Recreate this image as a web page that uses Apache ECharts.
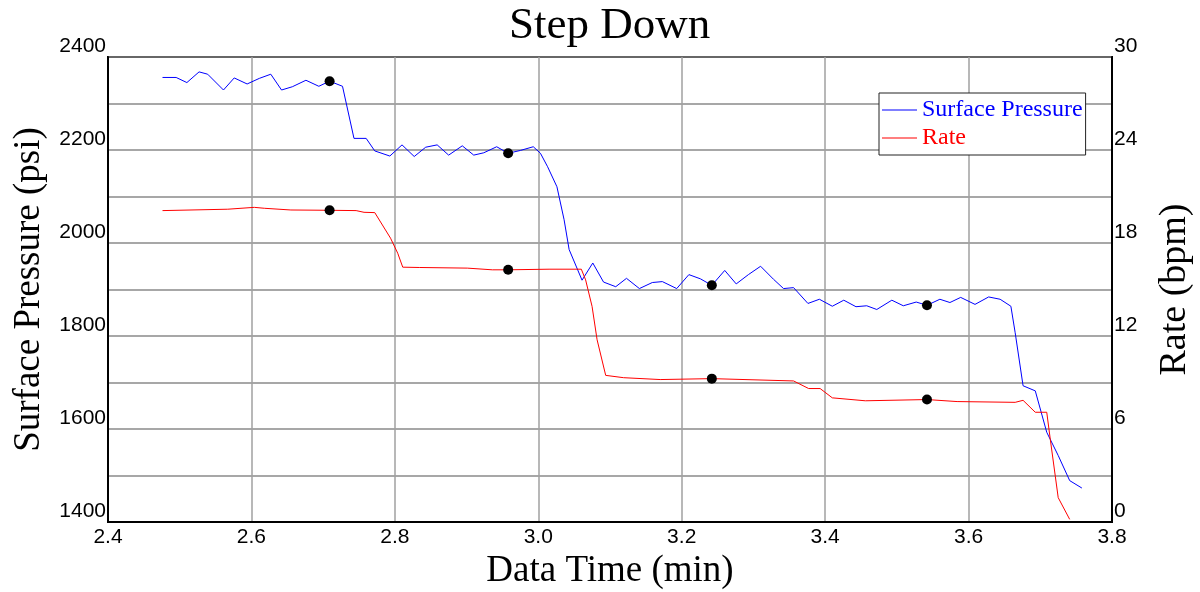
<!DOCTYPE html>
<html>
<head>
<meta charset="utf-8">
<script src="https://cdn.jsdelivr.net/npm/echarts@6/dist/echarts.min.js"></script>
<style>
html,body{margin:0;padding:0;background:#fff;}
#chart{width:1200px;height:592px;}
</style>
</head>
<body>
<div id="chart"></div>
<script>
// Surface pressure (psi) vs data time (min)
const pressureTime = [2.476,2.495,2.510,2.527,2.539,2.561,2.576,2.594,2.611,2.627,2.642,2.657,2.676,2.694,2.709,2.727,2.743,2.760,2.772,2.793,2.810,2.827,2.843,2.859,2.875,2.894,2.910,2.924,2.942,2.958,2.975,2.993,3.003,3.013,3.026,3.036,3.043,3.061,3.076,3.091,3.108,3.123,3.141,3.159,3.173,3.193,3.210,3.226,3.242,3.260,3.276,3.293,3.310,3.328,3.342,3.356,3.376,3.392,3.410,3.426,3.443,3.458,3.472,3.493,3.509,3.527,3.542,3.560,3.574,3.589,3.609,3.628,3.644,3.659,3.665,3.676,3.693,3.709,3.725,3.741,3.758];
const pressureValues = [2356,2356,2345,2368,2363,2329,2355,2342,2354,2363,2329,2336,2350,2337,2348,2337,2225,2225,2198,2187,2211,2186,2206,2211,2189,2209,2189,2194,2207,2193,2199,2207,2193,2164,2121,2050,1986,1920,1957,1916,1906,1924,1902,1915,1917,1902,1932,1923,1909,1941,1912,1932,1950,1922,1902,1904,1870,1879,1864,1877,1863,1865,1857,1877,1865,1873,1866,1879,1872,1883,1868,1884,1879,1864,1807,1693,1682,1593,1543,1489,1473];

// Rate (bpm) vs data time (min)
const rateTime = [2.476,2.567,2.604,2.618,2.655,2.709,2.746,2.757,2.772,2.794,2.804,2.811,2.834,2.901,2.936,2.957,3.015,3.060,3.066,3.075,3.082,3.094,3.119,3.170,3.242,3.356,3.377,3.393,3.410,3.456,3.542,3.584,3.665,3.676,3.693,3.709,3.714,3.725,3.741];
const rateValues = [20.09,20.18,20.30,20.24,20.13,20.11,20.09,19.98,19.96,18.31,17.34,16.44,16.42,16.38,16.27,16.27,16.31,16.31,15.62,13.91,11.76,9.46,9.31,9.19,9.25,9.10,8.61,8.61,8.01,7.82,7.90,7.77,7.72,7.85,7.08,7.08,5.32,1.57,0.17];

// Selected step points (black dots)
const stepTimes = [2.709,2.958,3.242,3.542];
const stepPressure = [2348,2193,1909,1866];
const stepRate = [20.11,16.27,9.25,7.90];

const xTicks = [2.4,2.6,2.8,3.0,3.2,3.4,3.6,3.8];

const zip = (a,b) => a.map((v,i)=>[v,b[i]]);

const chart = echarts.init(document.getElementById('chart'), null, {renderer:'canvas'});
const serif = '"Liberation Serif","DejaVu Serif",serif';
const sans = '"Liberation Sans",Arial,sans-serif';

chart.setOption({
  animation:false,
  backgroundColor:'#fff',
  title:{
    text:'Step Down', left:509, top:4, padding:0,
    textStyle:{fontFamily:serif,fontSize:45,fontWeight:'normal',color:'#000'}
  },
  legend:{
    orient:'vertical', left:879, top:93,
    backgroundColor:'#fff', borderColor:'#222', borderWidth:1,
    padding:[5,3,5,3], itemGap:4,
    icon:'rect', itemWidth:35, itemHeight:1.2,
    textStyle:{fontFamily:serif,fontSize:24},
    data:[
      {name:'Surface Pressure',textStyle:{color:'#0000ff'}},
      {name:'Rate',textStyle:{color:'#ff0000'}}
    ]
  },
  grid:{left:108,right:88,top:57,bottom:70,containLabel:false,outerBoundsMode:'none',
        show:true,borderColor:'#000',borderWidth:2,backgroundColor:'#fff'},
  xAxis:{
    type:'value', min:xTicks[0], max:xTicks[xTicks.length-1], interval:0.2,
    name:'Data Time (min)', nameLocation:'middle', nameGap:31,
    nameTextStyle:{fontFamily:serif,fontSize:37,color:'#000'},
    axisLine:{show:true,lineStyle:{color:'#000',width:2}},
    axisTick:{show:false},
    axisLabel:{fontFamily:sans,fontSize:21,color:'#000',margin:5,formatter:v=>v.toFixed(1)},
    splitLine:{show:true,lineStyle:{color:'#a0a0a0',width:1.5}}
  },
  yAxis:[{
    type:'value', min:1400, max:2400, interval:100, position:'left',
    name:'Surface Pressure (psi)', nameLocation:'middle', nameGap:60, nameRotate:90,
    nameTextStyle:{fontFamily:serif,fontSize:37,color:'#000'},
    axisLine:{show:true,lineStyle:{color:'#000',width:2}},
    axisTick:{show:false},
    axisLabel:{fontFamily:sans,fontSize:21,color:'#000',margin:2,verticalAlign:'bottom',
      formatter:v=>(v%200===0?String(v):'')},
    splitLine:{show:true,lineStyle:{color:'#8a8a8a',width:1.5}}
  },{
    type:'value', min:0, max:30, interval:3, position:'right',
    name:'Rate (bpm)', nameLocation:'middle', nameGap:44, nameRotate:90,
    nameTextStyle:{fontFamily:serif,fontSize:38,color:'#000'},
    axisLine:{show:true,lineStyle:{color:'#000',width:2}},
    axisTick:{show:false},
    axisLabel:{fontFamily:sans,fontSize:21,color:'#000',margin:2,verticalAlign:'bottom',
      formatter:v=>(v%6===0?String(v):'')},
    splitLine:{show:false}
  }],
  series:[
    {name:'Surface Pressure',type:'line',yAxisIndex:0,data:zip(pressureTime,pressureValues),
     symbol:'none',lineStyle:{color:'#0000ff',width:1},itemStyle:{color:'#0000ff'},z:3},
    {name:'Rate',type:'line',yAxisIndex:1,data:zip(rateTime,rateValues),
     symbol:'none',lineStyle:{color:'#ff0000',width:1},itemStyle:{color:'#ff0000'},z:3},
    {name:'pPts',type:'scatter',yAxisIndex:0,data:zip(stepTimes,stepPressure),
     symbol:'circle',symbolSize:10,itemStyle:{color:'#000',opacity:1},z:5},
    {name:'rPts',type:'scatter',yAxisIndex:1,data:zip(stepTimes,stepRate),
     symbol:'circle',symbolSize:10,itemStyle:{color:'#000',opacity:1},z:5}
  ]
});
</script>
</body>
</html>
